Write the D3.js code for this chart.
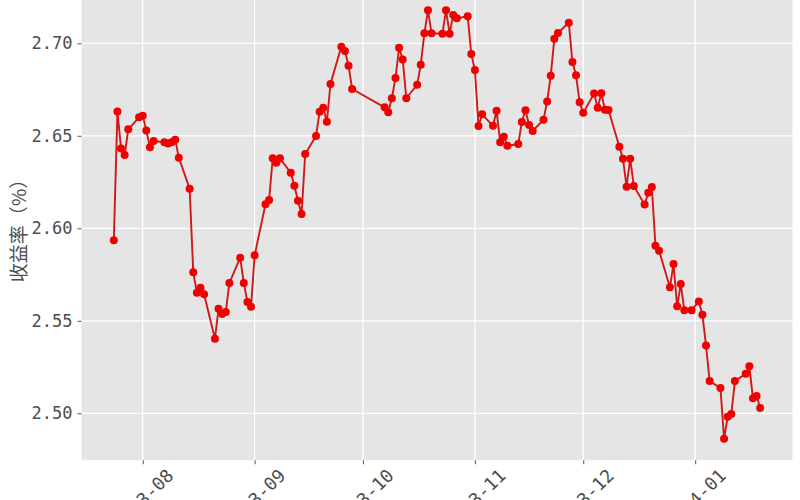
<!DOCTYPE html>
<html>
<head>
<meta charset="utf-8">
<script src="https://cdn.jsdelivr.net/npm/d3@7"></script>
<style>
  html, body { margin: 0; padding: 0; background: #ffffff; }
  svg { display: block; }
</style>
</head>
<body>
<svg id="chart" width="800" height="500"></svg>
<script>
// ---- data ----
const dates = [
  "2023-07-24","2023-07-25","2023-07-26","2023-07-27","2023-07-28",
  "2023-07-31","2023-08-01","2023-08-02","2023-08-03","2023-08-04",
  "2023-08-07","2023-08-08","2023-08-09","2023-08-10","2023-08-11",
  "2023-08-14","2023-08-15","2023-08-16","2023-08-17","2023-08-18",
  "2023-08-21","2023-08-22","2023-08-23","2023-08-24","2023-08-25",
  "2023-08-28","2023-08-29","2023-08-30","2023-08-31","2023-09-01",
  "2023-09-04","2023-09-05","2023-09-06","2023-09-07","2023-09-08",
  "2023-09-11","2023-09-12","2023-09-13","2023-09-14","2023-09-15",
  "2023-09-18","2023-09-19","2023-09-20","2023-09-21","2023-09-22",
  "2023-09-25","2023-09-26","2023-09-27","2023-09-28",
  "2023-10-07","2023-10-08",
  "2023-10-09","2023-10-10","2023-10-11","2023-10-12","2023-10-13",
  "2023-10-16","2023-10-17","2023-10-18","2023-10-19","2023-10-20",
  "2023-10-23","2023-10-24","2023-10-25","2023-10-26","2023-10-27",
  "2023-10-30","2023-10-31","2023-11-01","2023-11-02","2023-11-03",
  "2023-11-06","2023-11-07","2023-11-08","2023-11-09","2023-11-10",
  "2023-11-13","2023-11-14","2023-11-15","2023-11-16","2023-11-17",
  "2023-11-20","2023-11-21","2023-11-22","2023-11-23","2023-11-24",
  "2023-11-27","2023-11-28","2023-11-29","2023-11-30","2023-12-01",
  "2023-12-04","2023-12-05","2023-12-06","2023-12-07","2023-12-08",
  "2023-12-11","2023-12-12","2023-12-13","2023-12-14","2023-12-15",
  "2023-12-18","2023-12-19","2023-12-20","2023-12-21","2023-12-22",
  "2023-12-25","2023-12-26","2023-12-27","2023-12-28","2023-12-29",
  "2023-12-31",
  "2024-01-02","2024-01-03","2024-01-04","2024-01-05",
  "2024-01-08","2024-01-09","2024-01-10","2024-01-11","2024-01-12",
  "2024-01-15","2024-01-16","2024-01-17","2024-01-18","2024-01-19"
];
const yields = [
  2.5935,2.6632,2.6432,2.6396,2.6535,
  2.6600,2.6609,2.6528,2.6438,2.6472,
  2.6465,2.6459,2.6465,2.6479,2.6382,
  2.6214,2.5762,2.5652,2.5679,2.5643,
  2.5403,2.5565,2.5537,2.5548,2.5704,
  2.5841,2.5704,2.5602,2.5576,2.5854,
  2.6130,2.6153,2.6378,2.6355,2.6378,
  2.6300,2.6230,2.6149,2.6077,2.6402,
  2.6499,2.6630,2.6652,2.6576,2.6780,
  2.6982,2.6958,2.6879,2.6753,
  2.6654,2.6627,
  2.6703,2.6812,2.6976,2.6913,2.6703,
  2.6776,2.6884,2.7054,2.7178,2.7054,
  2.7052,2.7178,2.7052,2.7153,2.7135,
  2.7146,2.6942,2.6856,2.6553,2.6616,
  2.6554,2.6636,2.6465,2.6495,2.6446,
  2.6456,2.6575,2.6638,2.6558,2.6526,
  2.6587,2.6686,2.6825,2.7025,2.7056,
  2.7111,2.6899,2.6827,2.6681,2.6625,
  2.6728,2.6652,2.6730,2.6641,2.6640,
  2.6441,2.6376,2.6225,2.6376,2.6229,
  2.6128,2.6192,2.6223,2.5906,2.5879,
  2.5681,2.5807,2.5578,2.5699,2.5557,
  2.5557,
  2.5605,2.5533,2.5367,2.5174,
  2.5137,2.4862,2.4982,2.4996,2.5174,
  2.5214,2.5254,2.5081,2.5094,2.5029
];
const yTickValues = [2.50, 2.55, 2.60, 2.65, 2.70];
const xTickDates = ["2023-08-01","2023-09-01","2023-10-01","2023-11-01","2023-12-01","2024-01-01"];
const xTickLabels = ["2023-08","2023-09","2023-10","2023-11","2023-12","2024-01"];
const yTitle = "收益率（%）";

// ---- layout ----
const parse = d3.timeParse("%Y-%m-%d");
const data = dates.map((d, i) => ({ date: parse(d), value: yields[i] }));

// ggplot-style 5% expansion of data range
const xExt = d3.extent(data, d => d.date);
const xPad = (xExt[1] - xExt[0]) * 0.05;
const yExt = d3.extent(data, d => d.value);
const yPad = (yExt[1] - yExt[0]) * 0.05;

const x = d3.scaleTime()
  .domain([new Date(+xExt[0] - xPad), new Date(+xExt[1] + xPad)])
  .range([81.5, 792.5]);
const y = d3.scaleLinear()
  .domain([2.50, 2.70])
  .range([413.3, 43.3]);

const svg = d3.select("#chart");
const yTop = y(yExt[1] + yPad), yBot = y(yExt[0] - yPad);
const xL = x.range()[0], xR = x.range()[1];

// panel
svg.append("rect")
  .attr("x", xL).attr("y", yTop)
  .attr("width", xR - xL).attr("height", yBot - yTop)
  .attr("fill", "#E5E5E5");

// gridlines
const grid = svg.append("g");
grid.selectAll("line.h").data(yTickValues).enter().append("line")
  .attr("x1", xL).attr("x2", xR)
  .attr("y1", d => y(d)).attr("y2", d => y(d))
  .attr("stroke", "#ffffff").attr("stroke-width", 1.3);
grid.selectAll("line.v").data(xTickDates).enter().append("line")
  .attr("x1", d => x(parse(d))).attr("x2", d => x(parse(d)))
  .attr("y1", yTop).attr("y2", yBot)
  .attr("stroke", "#ffffff").attr("stroke-width", 1.3);

// y axis
const yAxis = d3.axisLeft(y)
  .tickValues(yTickValues)
  .tickSize(4)
  .tickPadding(5)
  .tickFormat(d3.format(".2f"));
const gy = svg.append("g").attr("transform", `translate(${xL},0)`).call(yAxis);
gy.select(".domain").remove();
gy.selectAll(".tick line").attr("stroke", "#555");
gy.selectAll(".tick text")
  .attr("fill", "#4D4D4D")
  .style("font-family", "'DejaVu Sans Mono', 'Liberation Mono', monospace")
  .style("font-size", "17px");

// x axis
const xAxis = d3.axisBottom(x)
  .tickValues(xTickDates.map(parse))
  .tickSize(4)
  .tickFormat((d, i) => xTickLabels[i]);
const gx = svg.append("g").attr("transform", `translate(0,${yBot})`).call(xAxis);
gx.select(".domain").remove();
gx.selectAll(".tick line").attr("stroke", "#555");
gx.selectAll(".tick text")
  .attr("fill", "#4D4D4D")
  .attr("y", 0).attr("dy", null)
  .attr("text-anchor", "middle")
  .attr("dominant-baseline", "central")
  .attr("transform", `translate(0,${499 - yBot}) rotate(-45)`)
  .style("font-family", "'DejaVu Sans Mono', 'Liberation Mono', monospace")
  .style("font-size", "18px");

// y title
svg.append("text")
  .attr("transform", `translate(17.5,226) rotate(-90)`)
  .attr("text-anchor", "middle")
  .attr("dominant-baseline", "central")
  .attr("fill", "#4D4D4D")
  .style("font-family", "'Noto Sans CJK SC', sans-serif")
  .style("font-size", "19px")
  .style("text-spacing-trim", "space-all")
  .text(yTitle);

// line
const line = d3.line().x(d => x(d.date)).y(d => y(d.value));
svg.append("path")
  .datum(data)
  .attr("d", line)
  .attr("fill", "none")
  .attr("stroke", "#D01818")
  .attr("stroke-width", 1.9)
  .attr("stroke-linejoin", "round");

// points
svg.append("g").selectAll("circle").data(data).enter().append("circle")
  .attr("cx", d => x(d.date))
  .attr("cy", d => y(d.value))
  .attr("r", 4)
  .attr("fill", "#F00000");
</script>
</body>
</html>
